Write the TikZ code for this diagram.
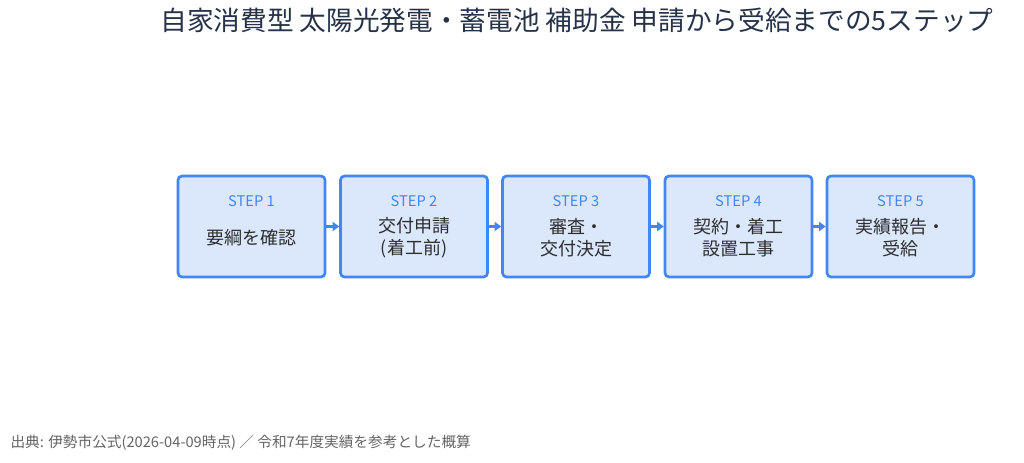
\documentclass[tikz,border=0pt]{standalone}
\usepackage{fontspec}
\setmainfont{Noto Sans CJK JP}
\usetikzlibrary{arrows.meta}
\definecolor{stepblue}{RGB}{66,133,244}
\definecolor{boxfill}{RGB}{219,232,252}
\definecolor{titlenavy}{RGB}{38,50,72}
\definecolor{bodytext}{RGB}{45,45,45}
\definecolor{notegray}{RGB}{100,100,100}
\tikzset{every picture/.style={line width=0.75pt}}
\tikzset{
  stepbox/.style={draw=stepblue, fill=boxfill, line width=2pt, rounded corners=3pt,
    minimum width=110.25pt, minimum height=75.75pt, inner sep=0pt},
  steplbl/.style={text=stepblue, font=\fontsize{11}{12}\selectfont, inner sep=0pt},
  steptxt/.style={text=bodytext, font=\fontsize{13.5}{16.5}\selectfont, align=center, inner sep=0pt},
  flow/.style={draw=stepblue, line width=2.2pt, -{Triangle[length=5pt,width=7pt]}}
}

\begin{document}
\begin{tikzpicture}[x=0.75pt,y=0.75pt,yscale=-1,xscale=1]
    \useasboundingbox (0,0) rectangle (1024,463);

    % Title
    \node (title) at (577,20) [text=titlenavy, font=\fontsize{20}{24}\selectfont, inner sep=0pt] {自家消費型 太陽光発電・蓄電池 補助金 申請から受給までの5ステップ};

    % Steps
    \foreach \i/\cx/\body in {1/251.5/要綱を確認, 2/414/交付申請\\(着工前), 3/576/審査・\\交付決定, 4/738.5/契約・着工\\設置工事, 5/900.5/実績報告・\\受給}{
      \node (s\i) at (\cx,226.5) [stepbox] {};
      \node (l\i) at (\cx,201) [steplbl] {STEP \i};
      \node (t\i) at (\cx,238) [steptxt] {\body};
    }

    % Arrows
    \foreach \a/\b in {1/2, 2/3, 3/4, 4/5}{
      \draw [flow] (s\a.east) -- (s\b.west);
    }

    % Source note
    \node (note) at (10,443) [anchor=west, text=notegray, font=\fontsize{11}{13}\selectfont, inner sep=0pt] {出典: 伊勢市公式(2026-04-09時点) ／ 令和7年度実績を参考とした概算};
\end{tikzpicture}
\end{document}
